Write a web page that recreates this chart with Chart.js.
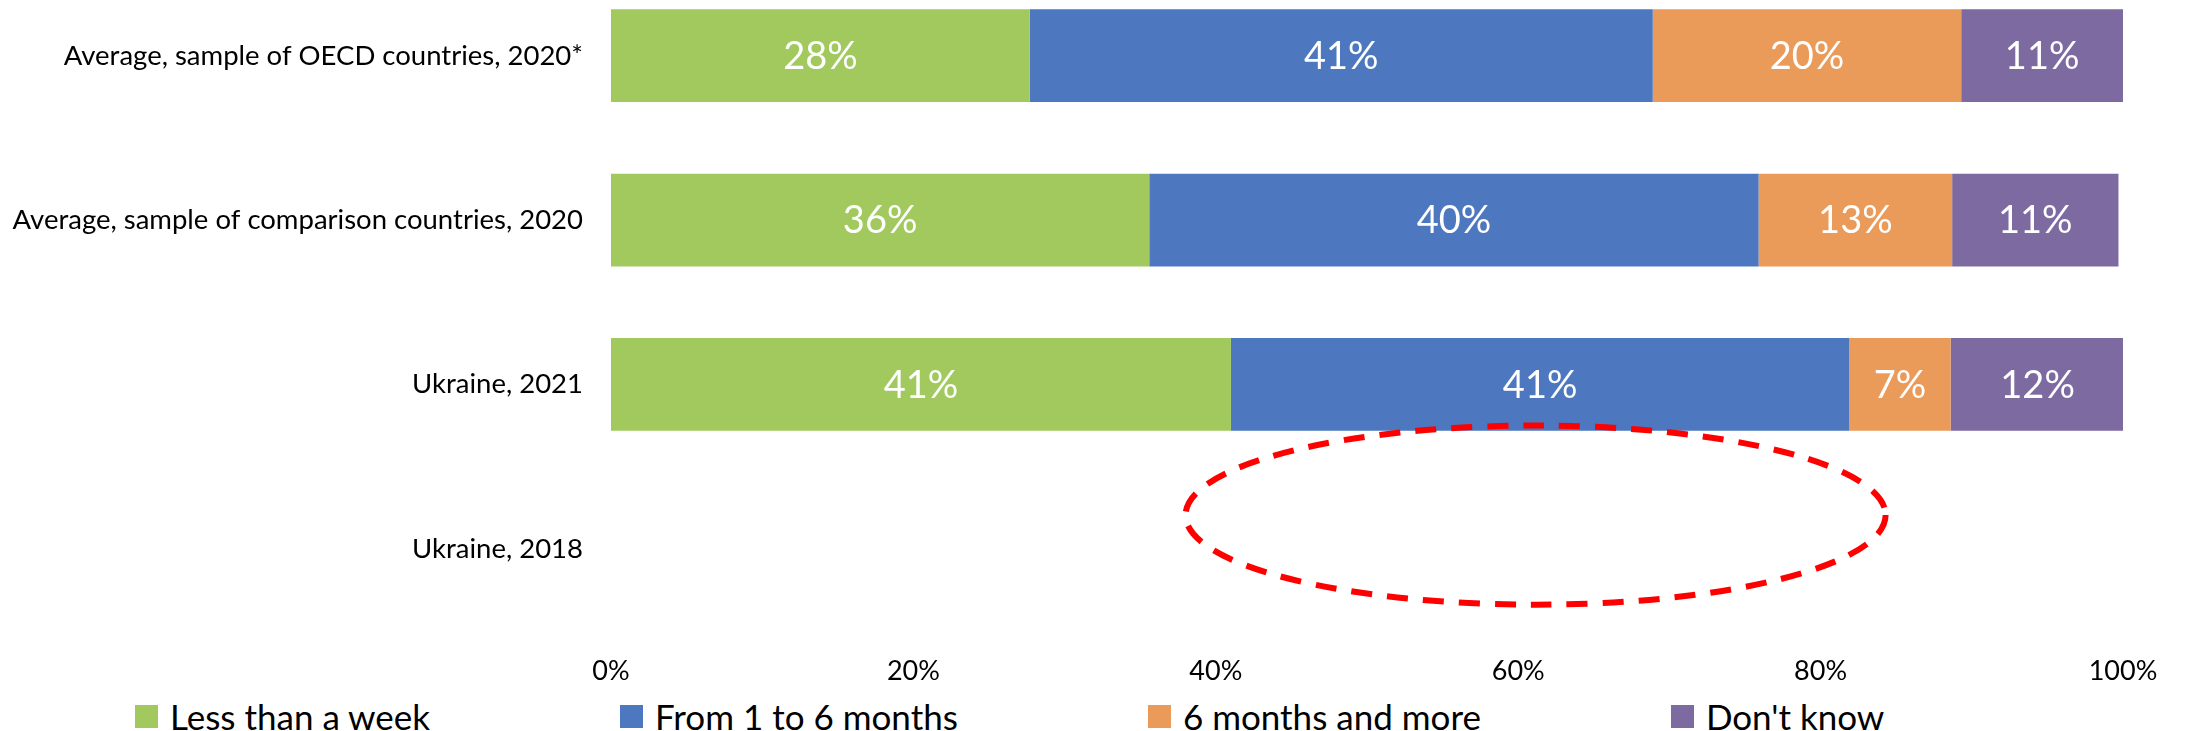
<!DOCTYPE html>
<html lang="en">
  <head>
    <meta charset="UTF-8" />
    <title>Time to resolve</title>
    <script src="https://cdn.jsdelivr.net/npm/chart.js"></script>
    <style>
      body {
        margin: 0;
        width: 2186px;
        height: 731px;
        overflow: hidden;
        background: #ffffff;
        font-family: Lato, "Noto Sans", sans-serif;
        position: relative;
      }

      #chartBox {
        position: absolute;
        left: 0;
        top: -71px; /* first band starts above the page edge */
        width: 2186px;
        height: 762px;
      }

      #legend {
        position: absolute;
        left: 135px;
        top: 697px;
        display: flex;
        gap: 190px;
      }

      .item {
        display: flex;
        align-items: center;
        font-size: 35px;
        line-height: 38px;
        color: #000;
        white-space: nowrap;
      }

      .item span.box {
        width: 23px;
        height: 23px;
        margin-right: 12px;
      }
    </style>
  </head>
  <body>
    <div id="chartBox"><canvas id="myChart"></canvas></div>
    <div id="legend"></div>
    <script>
      const categories = [
        "Average, sample of OECD countries, 2020*",
        "Average, sample of comparison countries, 2020",
        "Ukraine, 2021",
        "Ukraine, 2018",
      ];
      const seriesNames = [
        "Less than a week",
        "From 1 to 6 months",
        "6 months and more",
        "Don't know",
      ];
      const lessThanWeek = [27.7, 35.6, 41.0, null];
      const oneToSixMonths = [41.2, 40.3, 40.9, null];
      const sixMonthsPlus = [20.4, 12.8, 6.7, null];
      const dontKnow = [10.7, 11.0, 11.5, null];
      const colors = ["#a1c95e", "#4d77bf", "#ea9a59", "#7c6aa0"];

      // dashed ring around the empty 2018 row, in axis units
      const ringX = [38, 84.3];
      const ringY = [2.25, 3.34];

      const seriesValues = [lessThanWeek, oneToSixMonths, sixMonthsPlus, dontKnow];

      // white percentage in the middle of every segment
      const barLabels = {
        id: "barLabels",
        afterDatasetsDraw(chart) {
          const ctx = chart.ctx;
          ctx.save();
          ctx.fillStyle = "#ffffff";
          ctx.font = "38px Lato";
          ctx.textAlign = "center";
          ctx.textBaseline = "middle";
          chart.data.datasets.forEach((ds, i) => {
            const meta = chart.getDatasetMeta(i);
            meta.data.forEach((bar, j) => {
              const v = ds.data[j];
              if (v === null) return;
              const p = bar.getProps(["x", "y", "base"], true);
              ctx.fillText(Math.round(v) + "%", (p.x + p.base) / 2, p.y + 1);
            });
          });
          ctx.restore();
        },
      };

      const dashedRing = {
        id: "dashedRing",
        afterDraw(chart) {
          const { x, y } = chart.scales;
          const x0 = x.getPixelForValue(ringX[0]);
          const x1 = x.getPixelForValue(ringX[1]);
          const y0 = y.getPixelForValue(ringY[0]);
          const y1 = y.getPixelForValue(ringY[1]);
          const ctx = chart.ctx;
          ctx.save();
          ctx.strokeStyle = "#ff0000";
          ctx.lineWidth = 6;
          ctx.setLineDash([21, 15]);
          ctx.beginPath();
          ctx.ellipse((x0 + x1) / 2, (y0 + y1) / 2, (x1 - x0) / 2, (y1 - y0) / 2, 0, 0, Math.PI * 2);
          ctx.stroke();
          ctx.restore();
        },
      };

      const ctx = document.getElementById("myChart").getContext("2d");
      const myChart = new Chart(ctx, {
        type: "bar",
        data: {
          labels: categories,
          datasets: seriesNames.map((name, i) => ({
            label: name,
            data: seriesValues[i],
            backgroundColor: colors[i],
            borderWidth: 0,
            barPercentage: 0.564,
            categoryPercentage: 1,
          })),
        },
        options: {
          indexAxis: "y",
          responsive: true,
          maintainAspectRatio: false,
          animation: false,
          layout: { padding: { left: 0, right: 63, top: 0, bottom: 0 } },
          plugins: {
            legend: { display: false },
            tooltip: { enabled: false },
          },
          scales: {
            x: {
              stacked: true,
              min: 0,
              max: 100,
              grid: { display: false, drawTicks: false },
              border: { display: false },
              ticks: {
                stepSize: 20,
                padding: 24,
                color: "#000",
                font: { family: "Lato", size: 27 },
                callback: (v) => v + "%",
              },
              afterFit(scale) {
                scale.height = 60;
              },
            },
            y: {
              stacked: true,
              grid: { display: false, drawTicks: false },
              border: { display: false },
              ticks: {
                padding: 28,
                color: "#000",
                font: { family: "Lato", size: 27.5 },
              },
              afterFit(scale) {
                scale.width = 611;
              },
            },
          },
        },
        plugins: [barLabels, dashedRing],
      });

      // legend row under the axis
      const legend = document.getElementById("legend");
      seriesNames.forEach((name, i) => {
        const item = document.createElement("div");
        item.className = "item";
        const box = document.createElement("span");
        box.className = "box";
        box.style.background = colors[i];
        item.appendChild(box);
        item.appendChild(document.createTextNode(name));
        legend.appendChild(item);
      });
    </script>
  </body>
</html>
